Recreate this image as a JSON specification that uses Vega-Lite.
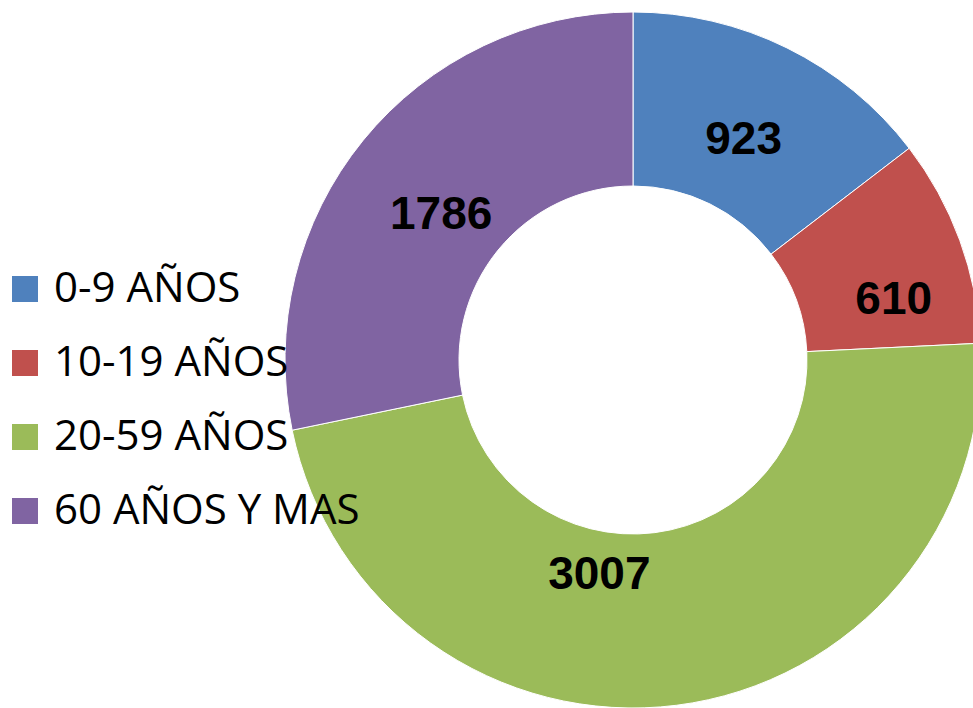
{
  "$schema": "https://vega.github.io/schema/vega-lite/v6.json",
  "width": 680,
  "height": 696,
  "autosize": {"type": "none"},
  "padding": {"left": 293, "top": 12, "right": 0, "bottom": 0},
  "background": "white",
  "config": {"view": {"stroke": null}},
  "data": {
    "values": [
      {"cat": "0-9 AÑOS", "value": 923},
      {"cat": "10-19 AÑOS", "value": 610},
      {"cat": "20-59 AÑOS", "value": 3007},
      {"cat": "60 AÑOS Y MAS", "value": 1786}
    ]
  },
  "transform": [
    {"stack": "value", "groupby": [], "sort": [{"field": "cat", "order": "ascending"}], "as": ["v0", "v1"]},
    {"calculate": "(datum.v0 + datum.v1) / 2", "as": "vmid"}
  ],
  "encoding": {
    "color": {
      "field": "cat",
      "type": "nominal",
      "scale": {
        "domain": ["0-9 AÑOS", "10-19 AÑOS", "20-59 AÑOS", "60 AÑOS Y MAS"],
        "range": ["#4F81BD", "#C0504D", "#9BBB59", "#8064A2"]
      },
      "legend": {
        "title": null,
        "orient": "none",
        "legendX": -289,
        "legendY": 256,
        "padding": 0,
        "symbolType": "square",
        "symbolSize": 676,
        "symbolStrokeWidth": 0,
        "symbolOpacity": 1,
        "labelFont": "Open Sans",
        "labelFontSize": 42,
        "labelColor": "black",
        "labelOffset": 8,
        "rowPadding": 32,
        "labelLimit": 400
      }
    }
  },
  "layer": [
    {
      "mark": {"type": "arc", "outerRadius": 348, "innerRadius": 174, "stroke": "white", "strokeWidth": 1},
      "encoding": {
        "theta": {"field": "v0", "type": "quantitative", "scale": {"domain": [0, 6326]}},
        "theta2": {"field": "v1"}
      }
    },
    {
      "transform": [{"filter": "datum.cat === '0-9 AÑOS'"}],
      "mark": {"type": "text", "radius": 250, "dy": 4, "font": "Liberation Sans", "fontWeight": "bold", "fontSize": 46, "fill": "black"},
      "encoding": {"theta": {"field": "vmid", "type": "quantitative"}, "text": {"field": "value", "type": "quantitative"}, "color": {"value": "black"}}
    },
    {
      "transform": [{"filter": "datum.cat === '10-19 AÑOS'"}],
      "mark": {"type": "text", "radius": 250, "dx": 26, "dy": 26, "font": "Liberation Sans", "fontWeight": "bold", "fontSize": 46, "fill": "black"},
      "encoding": {"theta": {"field": "vmid", "type": "quantitative"}, "text": {"field": "value", "type": "quantitative"}, "color": {"value": "black"}}
    },
    {
      "transform": [{"filter": "datum.cat === '20-59 AÑOS'"}],
      "mark": {"type": "text", "radius": 250, "dx": -65, "dy": -33, "font": "Liberation Sans", "fontWeight": "bold", "fontSize": 46, "fill": "black"},
      "encoding": {"theta": {"field": "vmid", "type": "quantitative"}, "text": {"field": "value", "type": "quantitative"}, "color": {"value": "black"}}
    },
    {
      "transform": [{"filter": "datum.cat === '60 AÑOS Y MAS'"}],
      "mark": {"type": "text", "radius": 250, "dx": 2, "dy": 13, "font": "Liberation Sans", "fontWeight": "bold", "fontSize": 46, "fill": "black"},
      "encoding": {"theta": {"field": "vmid", "type": "quantitative"}, "text": {"field": "value", "type": "quantitative"}, "color": {"value": "black"}}
    }
  ]
}
